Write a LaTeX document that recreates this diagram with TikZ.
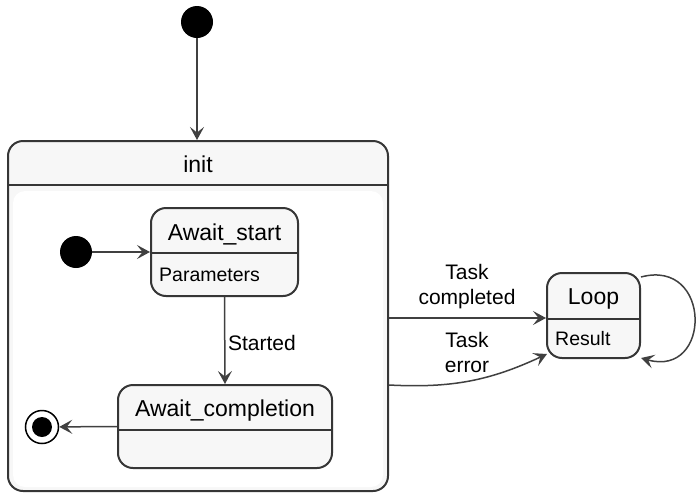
\documentclass[tikz,border=0pt]{standalone}
\usepackage{fontspec}
\setmainfont{Liberation Sans}
\usetikzlibrary{arrows.meta,calc}
\definecolor{strokec}{HTML}{363636}
\definecolor{arrowc}{HTML}{404040}
\definecolor{boxfill}{HTML}{F7F7F7}
\begin{document}
\begin{tikzpicture}[x=1pt,y=-1pt,
  statebox/.style={draw=strokec, line width=2pt, fill=boxfill, rounded corners=15pt, inner sep=0pt},
  divider/.style={draw=strokec, line width=2pt},
  title/.style={font=\fontsize{23}{27}\selectfont, inner sep=0pt, anchor=base},
  body/.style={font=\fontsize{19.5}{23}\selectfont, inner sep=0pt, anchor=base west},
  lbl/.style={font=\fontsize{21}{25}\selectfont, inner sep=0pt, align=center},
  arr/.style={draw=arrowc, line width=1.5pt, -{Stealth[length=13pt,width=14pt,inset=5.5pt]}},
  dot/.style={circle, fill=black, inner sep=0pt, minimum size=32pt},
]
\useasboundingbox (0,0) rectangle (696,493);

% composite state init
\node[statebox, minimum width=380, minimum height=350] (init) at (198,316) {};
\fill[white, rounded corners=12pt] (13,191) rectangle (383,487);
\draw[divider] ($(init.north west)+(0,45)$) -- ($(init.north east)+(0,45)$);
\node[title] (initlbl) at ($(init.north)+(0,32.3)$) {init};

% Await_start
\node[statebox, minimum width=147, minimum height=88] (as) at (224.5,252) {};
\draw[divider] ($(as.north west)+(0,46)$) -- ($(as.north east)+(0,46)$);
\node[title] (astitle) at ($(as.north)+(0,33)$) {Await\_start};
\node[body] (asbody) at ($(as.north west)+(9,74.7)$) {Parameters};

% Await_completion
\node[statebox, minimum width=214, minimum height=83] (ac) at (225,426.5) {};
\draw[divider] ($(ac.north west)+(0,46)$) -- ($(ac.north east)+(0,46)$);
\node[title] (actitle) at ($(ac.north)+(0,32)$) {Await\_completion};

% Loop
\node[statebox, minimum width=93, minimum height=85] (loop) at (593.5,315.5) {};
\draw[divider] ($(loop.north west)+(0,47)$) -- ($(loop.north east)+(0,47)$);
\node[title] (looptitle) at ($(loop.north)+(0,32.7)$) {Loop};
\node[body] (loopbody) at ($(loop.north west)+(9,73.7)$) {Result};

% pseudo states
\node[dot] (start) at (197,22) {};
\node[dot] (istart) at (76,252) {};
\node[circle, draw=black, line width=1.5pt, fill=white, minimum size=33pt, inner sep=0pt] (fin) at (42,427) {};
\node[dot, minimum size=20pt] (findot) at (fin) {};

% transitions
\draw[arr] (start) -- (start |- init.north);
\draw[arr] (istart) -- (as.west);
\draw[arr] (as.south) -- (ac.north) node[midway, anchor=base west, xshift=2.5pt, yshift=-9.5pt, lbl] (started) {Started};
\draw[arr] (ac.west) -- (fin);

\coordinate (tcend) at ($(loop.west)+(0,2.5)$);
\draw[arr] (init.east |- tcend) -- (tcend);
\node[lbl] (tclbl) at (467,287) {Task\\completed};

\coordinate (testart) at ($(init.east)+(0,69)$);
\coordinate (teend) at ($(loop.south west)+(1,-5)$);
\draw[arr] (testart) to[out=-3, in=205] (teend);
\node[lbl] (telbl) at (467,352.3) {Task\\error};

\coordinate (lpstart) at ($(loop.north east)+(0,5)$);
\coordinate (lpend) at ($(loop.south east)+(0,-1)$);
\draw[arr] (lpstart) .. controls (712,258) and (712,378) .. (lpend);
\end{tikzpicture}
\end{document}
